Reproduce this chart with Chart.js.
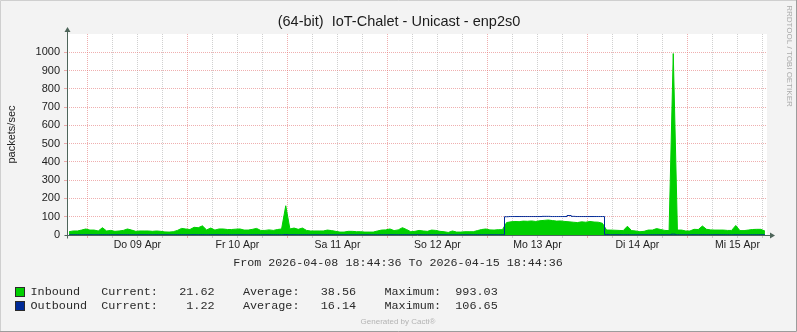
<!DOCTYPE html>
<html>
<head>
<meta charset="utf-8">
<script src="https://cdn.jsdelivr.net/npm/chart.js@4.4.1/dist/chart.umd.min.js"></script>
<style>
  html, body { margin: 0; padding: 0; background: #f3f3f3; }
  canvas { display: block; }
</style>
</head>
<body>
<canvas id="trafficChart" width="797" height="332" style="width:797px;height:332px"></canvas>
<script>
// Hourly samples, 2026-04-08 18:44 -> 2026-04-15 18:44 (packets/sec)
const inbound = [
  18, 22, 22, 27, 33, 27, 27, 22, 40, 22,
  25, 20, 22, 25, 33, 27, 20, 22, 22, 22,
  20, 22, 20, 17, 16, 18, 25, 36, 33, 30,
  42, 40, 50, 28, 38, 27, 33, 33, 30, 30,
  32, 33, 27, 27, 31, 36, 25, 25, 28, 25,
  30, 33, 160, 33, 38, 31, 38, 25, 22, 22,
  22, 22, 27, 24, 20, 16, 16, 20, 20, 18,
  18, 16, 16, 16, 22, 27, 28, 33, 24, 28,
  40, 30, 18, 20, 25, 22, 20, 27, 25, 20,
  18, 14, 22, 16, 16, 18, 18, 18, 24, 30,
  33, 28, 27, 29, 29, 68, 72, 74, 73, 76,
  75, 77, 74, 78, 80, 82, 79, 76, 77, 74,
  72, 70, 68, 72, 70, 74, 71, 70, 64, 27,
  27, 26, 25, 24, 48, 24, 22, 18, 20, 27,
  27, 35, 30, 25, 24, 993.03, 27, 27, 22, 22,
  31, 30, 49, 31, 28, 27, 27, 27, 25, 25,
  52, 24, 24, 27, 30, 31, 31, 21.62
];

const outbound = [
  1.1, 1.2, 1.3, 1.2, 1.4, 1.2, 1.1, 1.2, 1.5, 1.2,
  1.2, 1.1, 1.2, 1.3, 1.4, 1.2, 1.1, 1.2, 1.2, 1.2,
  1.1, 1.2, 1.1, 1.0, 1.0, 1.1, 1.3, 1.5, 1.4, 1.3,
  1.6, 1.5, 1.7, 1.2, 1.4, 1.2, 1.3, 1.3, 1.3, 1.3,
  1.3, 1.3, 1.2, 1.2, 1.3, 1.4, 1.2, 1.2, 1.3, 1.2,
  1.3, 1.3, 2.4, 1.3, 1.4, 1.3, 1.4, 1.2, 1.1, 1.1,
  1.1, 1.1, 1.2, 1.2, 1.1, 1.0, 1.0, 1.1, 1.1, 1.1,
  1.1, 1.0, 1.0, 1.0, 1.1, 1.2, 1.2, 1.3, 1.2, 1.2,
  1.4, 1.3, 1.1, 1.1, 1.2, 1.1, 1.1, 1.2, 1.2, 1.1,
  1.1, 1.0, 1.1, 1.0, 1.0, 1.1, 1.1, 1.1, 1.2, 1.3,
  1.3, 1.2, 1.2, 1.3, 1.3, 100, 101, 101, 101, 101,
  101, 101, 101, 101, 102, 102, 101, 101, 101, 101,
  106.65, 102, 101, 101, 101, 101, 101, 101, 101, 3,
  1.2, 1.2, 1.2, 1.1, 1.4, 1.1, 1.1, 1.0, 1.1, 1.2,
  1.2, 1.3, 1.2, 1.1, 1.1, 4.5, 1.2, 1.2, 1.1, 1.1,
  1.3, 1.2, 1.5, 1.3, 1.2, 1.2, 1.2, 1.2, 1.1, 1.1,
  1.5, 1.1, 1.1, 1.2, 1.2, 1.3, 1.3, 1.22
];

// day labels sit at noon of each day
const dayLabels = ['Do 09 Apr', 'Fr 10 Apr', 'Sa 11 Apr', 'So 12 Apr', 'Mo 13 Apr', 'Di 14 Apr', 'Mi 15 Apr'];

const legendRows = [
  { color: '#00CF00', text: 'Inbound   Current:   21.62    Average:   38.56    Maximum:  993.03' },
  { color: '#002A97', text: 'Outbound  Current:    1.22    Average:   16.14    Maximum:  106.65' }
];

const TITLE = '(64-bit)  IoT-Chalet - Unicast - enp2s0';
const RANGE_TEXT = 'From 2026-04-08 18:44:36 To 2026-04-15 18:44:36';
const SPAN_HOURS = 168;
const FIRST_MIDNIGHT = 4.9; // hours after start

// each sample is placed at the middle of its hour
const hourIndex = inbound.map((_, i) => i + 0.5);
const gridHours = [];
for (let h = FIRST_MIDNIGHT; h < SPAN_HOURS; h += 6) gridHours.push(h);

const GRID_MAJOR = 'rgba(225, 110, 110, 0.55)';
const GRID_MINOR = 'rgba(170, 170, 170, 0.55)';
const AXIS_COLOR = '#4e655a';

Chart.defaults.font.family = '"Liberation Sans", Arial, sans-serif';
Chart.defaults.color = '#222';

// backdrop, axes with arrows, and the rrdtool-style texts
const rrdDecor = {
  id: 'rrdDecor',
  beforeDraw(chart) {
    const { ctx, chartArea: a } = chart;
    ctx.save();
    ctx.fillStyle = '#f3f3f3';
    ctx.fillRect(0, 0, chart.width, chart.height);
    ctx.fillStyle = '#ffffff';
    ctx.fillRect(a.left, a.top, a.right - a.left, a.bottom - a.top);
    // frame
    ctx.strokeStyle = '#cfcfcf';
    ctx.beginPath();
    ctx.moveTo(0.5, chart.height); ctx.lineTo(0.5, 0.5); ctx.lineTo(chart.width, 0.5);
    ctx.stroke();
    ctx.strokeStyle = '#9c9c9c';
    ctx.beginPath();
    ctx.moveTo(chart.width - 0.5, 0); ctx.lineTo(chart.width - 0.5, chart.height - 0.5); ctx.lineTo(0, chart.height - 0.5);
    ctx.stroke();
    ctx.restore();
  },
  afterDraw(chart) {
    const { ctx, chartArea: a } = chart;
    const x0 = Math.round(a.left) + 0.5;
    const y0 = Math.round(a.bottom) + 0.5;
    ctx.save();
    ctx.strokeStyle = AXIS_COLOR;
    ctx.fillStyle = AXIS_COLOR;
    ctx.lineWidth = 1;
    ctx.beginPath();
    ctx.moveTo(x0, y0 + 3); ctx.lineTo(x0, a.top - 4);
    ctx.moveTo(x0 - 3, y0); ctx.lineTo(a.right + 4, y0);
    ctx.stroke();
    ctx.beginPath();
    ctx.moveTo(x0, a.top - 7); ctx.lineTo(x0 - 3, a.top - 2); ctx.lineTo(x0 + 3, a.top - 2); ctx.closePath();
    ctx.fill();
    ctx.beginPath();
    ctx.moveTo(a.right + 8, y0); ctx.lineTo(a.right + 3, y0 - 3); ctx.lineTo(a.right + 3, y0 + 3); ctx.closePath();
    ctx.fill();

    // title
    ctx.fillStyle = '#1c1c1c';
    ctx.font = '14.5px "Liberation Sans", Arial, sans-serif';
    ctx.textAlign = 'center';
    ctx.textBaseline = 'middle';
    ctx.fillText(TITLE, 399, 22);

    // time range line
    ctx.fillStyle = '#2a2a2a';
    ctx.font = '11.7px "Liberation Mono", monospace';
    ctx.fillText(RANGE_TEXT, 398, 263);

    // legend
    ctx.font = '11.8px "Liberation Mono", monospace';
    ctx.textAlign = 'left';
    legendRows.forEach((row, i) => {
      const y = 292 + i * 14;
      ctx.fillStyle = row.color;
      ctx.fillRect(15.5, y - 4.5, 9, 9);
      ctx.strokeStyle = '#2a2a2a';
      ctx.strokeRect(15.5, y - 4.5, 9, 9);
      ctx.fillStyle = '#2a2a2a';
      ctx.fillText(row.text, 30.5, y);
    });

    // footer + watermark
    ctx.fillStyle = '#b4b4b4';
    ctx.font = '8px "Liberation Sans", Arial, sans-serif';
    ctx.textAlign = 'center';
    ctx.fillText('Generated by Cacti\u00AE', 398, 322);
    ctx.translate(789, 56);
    ctx.rotate(Math.PI / 2);
    ctx.font = '8px "Liberation Sans", Arial, sans-serif';
    ctx.fillStyle = '#ababab';
    ctx.fillText('RRDTOOL / TOBI OETIKER', 0, 0);
    ctx.restore();
  }
};

new Chart(document.getElementById('trafficChart'), {
  type: 'line',
  data: {
    labels: hourIndex,
    datasets: [
      {
        label: 'Outbound',
        data: outbound,
        borderColor: '#002A97',
        borderWidth: 1,
        pointRadius: 0,
        fill: false,
        stepped: 'middle',
        order: 0
      },
      {
        label: 'Inbound',
        data: inbound,
        borderColor: '#00CF00',
        backgroundColor: '#00CF00',
        borderWidth: 1,
        pointRadius: 0,
        fill: 'origin',
        tension: 0,
        order: 1
      }
    ]
  },
  options: {
    responsive: false,
    animation: false,
    devicePixelRatio: 1,
    layout: { padding: { left: 0, right: 30, top: 34, bottom: 0 } },
    plugins: {
      legend: { display: false },
      tooltip: { enabled: false },
      title: { display: false }
    },
    scales: {
      x: {
        type: 'linear',
        min: 0,
        max: SPAN_HOURS,
        afterBuildTicks: (axis) => { axis.ticks = gridHours.map(v => ({ value: v })); },
        afterFit: (axis) => { axis.height = 97; },
        ticks: {
          autoSkip: false,
          maxRotation: 0,
          padding: 1,
          font: { size: 10.5 },
          color: '#222',
          callback: (value, index) => (index % 4 === 2 ? dayLabels[(index - 2) / 4] : '')
        },
        grid: {
          drawTicks: true,
          tickLength: 3,
          color: (ctx) => (ctx.index % 4 === 0 ? GRID_MAJOR : GRID_MINOR)
        },
        border: { display: false, dash: [1, 1] }
      },
      y: {
        min: 0,
        max: 1100,
        afterFit: (axis) => { axis.width = 67; },
        ticks: {
          stepSize: 50,
          padding: 4,
          font: { size: 11 },
          color: '#222',
          callback: (value) => (value % 100 === 0 && value <= 1000 ? value : '')
        },
        grid: {
          drawTicks: true,
          tickLength: 3,
          color: (ctx) => {
            const v = ctx.tick ? ctx.tick.value : 0;
            if (v === 0 || v >= 1100) return 'rgba(0,0,0,0)';
            return v % 100 === 0 ? GRID_MAJOR : GRID_MINOR;
          }
        },
        border: { display: false, dash: [1, 1] },
        title: {
          display: true,
          text: 'packets/sec',
          color: '#222',
          font: { size: 11 },
          padding: { top: 5, bottom: 0 }
        }
      }
    }
  },
  plugins: [rrdDecor]
});
</script>
</body>
</html>
